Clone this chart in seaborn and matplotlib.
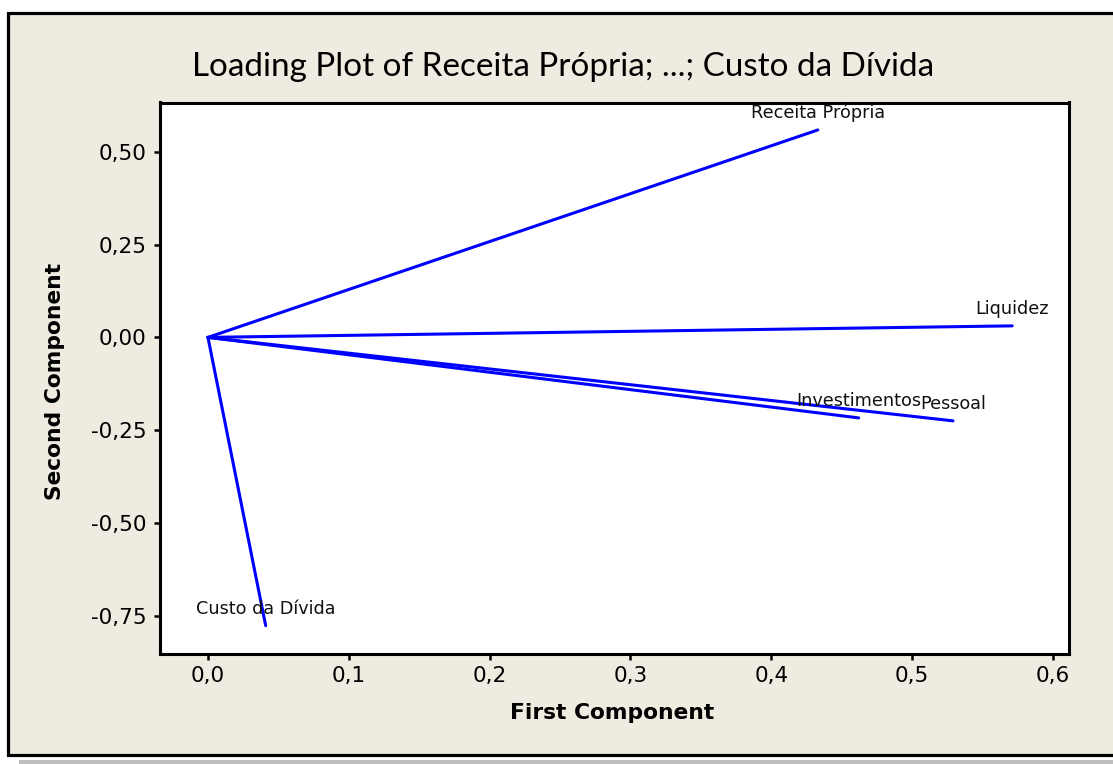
import matplotlib
matplotlib.use("Agg")
import matplotlib.pyplot as plt
from matplotlib.patches import Rectangle
import numpy as np
import pandas as pd
import seaborn as sns

# ---- data ----
variables = ["Receita Própria", "Liquidez", "Investimentos", "Pessoal", "Custo da Dívida"]
first_component = [0.433, 0.571, 0.462, 0.529, 0.041]
second_component = [0.559, 0.031, -0.217, -0.225, -0.777]
x_ticks = [0.0, 0.1, 0.2, 0.3, 0.4, 0.5, 0.6]
x_tick_labels = ["0,0", "0,1", "0,2", "0,3", "0,4", "0,5", "0,6"]
y_ticks = [0.50, 0.25, 0.00, -0.25, -0.50, -0.75]
y_tick_labels = ["0,50", "0,25", "0,00", "-0,25", "-0,50", "-0,75"]
title = "Loading Plot of Receita Própria; ...; Custo da Dívida"
x_label = "First Component"
y_label = "Second Component"

# ---- styling ----
sns.set_style("white")
plt.rcParams["font.family"] = ["DejaVu Sans"]
plt.rcParams["axes.unicode_minus"] = False

W, H = 1113, 764
fig = plt.figure(figsize=(W / 100, H / 100), dpi=100, facecolor="white")

def fx(px):
    return px / W

def fy(py):
    return (H - py) / H

# outer beige panel with black frame (right edge is cut off in the reference)
fig.patches.append(Rectangle((fx(7.5), fy(755)), fx(1125) - fx(7.5), fy(12.5) - fy(755),
                             transform=fig.transFigure, facecolor="#EFEBE1",
                             edgecolor="black", linewidth=2.3, zorder=-10))
fig.patches.append(Rectangle((fx(19), fy(764)), fx(1113) - fx(19), fy(760) - fy(764),
                             transform=fig.transFigure, facecolor="#BEBEBE",
                             edgecolor="none", zorder=-10))

ax = fig.add_axes([fx(159.5), fy(653.5), fx(1068.5) - fx(159.5), fy(102.5) - fy(653.5)])
ax.set_zorder(1)
ax.set_facecolor("white")

rows = []
for name, a, b in zip(variables, first_component, second_component):
    rows.append({"var": name, "pc1": 0.0, "pc2": 0.0})
    rows.append({"var": name, "pc1": a, "pc2": b})
df = pd.DataFrame(rows)

sns.lineplot(data=df, x="pc1", y="pc2", units="var", estimator=None, sort=False,
             color="#0000FF", linewidth=2.2, legend=False, ax=ax)

labels = []
for name, a, b in zip(variables, first_component, second_component):
    labels.append(ax.annotate(name, (a, b), xytext=(0, 8.5), textcoords="offset points",
                              ha="center", va="baseline", fontsize=9.3, color="#111111"))

ax.set_xlim(-0.0344, 0.611)
ax.set_ylim(-0.852, 0.633)
ax.set_xticks(x_ticks)
ax.set_xticklabels(x_tick_labels)
ax.set_yticks(y_ticks)
ax.set_yticklabels(y_tick_labels)
ax.set_xlabel("")
ax.set_ylabel("")
ax.tick_params(axis="both", direction="out", length=4.3, width=1.8, color="black",
               labelsize=15.5, labelcolor="black", bottom=True, left=True)
ax.tick_params(axis="x", pad=4.5)
ax.tick_params(axis="y", pad=5)
for s in ax.spines.values():
    s.set_visible(True)
    s.set_color("black")
    s.set_linewidth(2.2)

t_title = fig.text(fx(563), fy(76), title, ha="center", va="baseline",
                   fontsize=22, family=["Lato", "DejaVu Sans"], color="black")
t_x = fig.text(fx(612.5), fy(719), x_label, ha="center", va="baseline",
               fontsize=15, fontweight="bold", color="black")
t_y = fig.text(fx(55), fy(381), y_label, ha="center", va="center", rotation=90,
               fontsize=15, fontweight="bold", color="black")

# fit text widths to the reference's measured extents
fig.canvas.draw()
r = fig.canvas.get_renderer()
for t, target, horizontal in [(t_title, 740, True), (t_x, 205, True), (t_y, 238, False)]:
    bb = t.get_window_extent(r)
    size = bb.width if horizontal else bb.height
    t.set_fontsize(t.get_fontsize() * target / size)
lab_w = labels[0].get_window_extent(r).width
lab_size = labels[0].get_fontsize() * 133 / lab_w
for t in labels:
    t.set_fontsize(lab_size)

fig.savefig("out.png", dpi=100, facecolor="white")
